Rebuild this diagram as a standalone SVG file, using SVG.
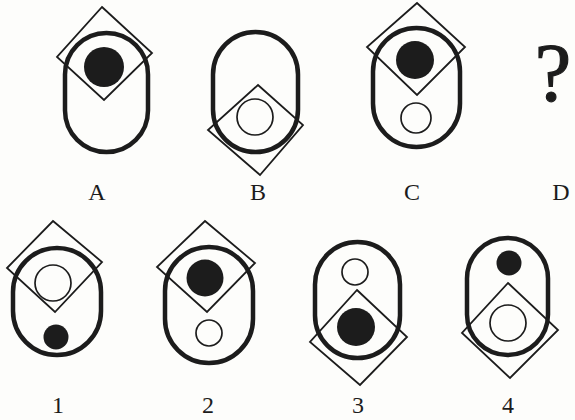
<svg xmlns="http://www.w3.org/2000/svg" width="575" height="420" viewBox="0 0 575 420">
<style>
.oval{fill:none;stroke:#1c1c1c;stroke-width:4.5}
.dia{fill:none;stroke:#1c1c1c;stroke-width:1.8;stroke-linejoin:miter}
.fill{fill:#1c1c1c}
.hollow{fill:none;stroke:#1c1c1c;stroke-width:1.7}
.lbl{font-family:"Liberation Serif",serif;font-size:24px;fill:#1c1c1c;text-anchor:middle}
.q{font-family:"Liberation Serif",serif;font-size:82px;fill:#1c1c1c;stroke:#1c1c1c;stroke-width:1.2;text-anchor:middle}
</style>
<rect width="575" height="420" fill="#fdfdfb"/>
<g id="figA">
<rect class="oval" x="65" y="33" width="83" height="119" rx="41.5" ry="41.5"/>
<polygon class="dia" points="102,7 152,53 104,100 57,57"/>
<circle class="fill" cx="104" cy="67" r="20"/>
<text class="lbl" x="97" y="200">A</text>
</g>
<g id="figB">
<rect class="oval" x="213" y="32" width="85" height="120" rx="42.5" ry="42.5"/>
<polygon class="dia" points="258,85 303,125 260,175 208,130"/>
<circle class="hollow" cx="255" cy="117" r="18"/>
<text class="lbl" x="258" y="200">B</text>
</g>
<g id="figC">
<rect class="oval" x="373" y="28" width="87" height="119" rx="43.5" ry="43.5"/>
<polygon class="dia" points="417,3 465,47 417,95 367,47"/>
<circle class="fill" cx="415" cy="60" r="19"/>
<circle class="hollow" cx="416" cy="118" r="15"/>
<text class="lbl" x="412" y="200">C</text>
</g>
<g id="figD">
<text class="q" x="553" y="100">?</text>
<text class="lbl" x="561" y="200">D</text>
</g>
<g id="fig1">
<rect class="oval" x="13" y="248" width="88" height="107" rx="44" ry="44"/>
<polygon class="dia" points="53,221 102,262 55,312 7,268"/>
<circle class="hollow" cx="53" cy="283" r="18"/>
<circle class="fill" cx="56" cy="337" r="12.5"/>
<text class="lbl" x="58" y="413">1</text>
</g>
<g id="fig2">
<rect class="oval" x="165" y="247" width="88" height="116" rx="44" ry="44"/>
<polygon class="dia" points="205,221 255,263 207,312 157,267"/>
<circle class="fill" cx="205" cy="278" r="18.5"/>
<circle class="hollow" cx="209" cy="333" r="13"/>
<text class="lbl" x="208" y="413">2</text>
</g>
<g id="fig3">
<rect class="oval" x="315" y="242" width="85" height="116" rx="42.5" ry="42.5"/>
<polygon class="dia" points="357,290 407,337 360,385 310,342"/>
<circle class="hollow" cx="355" cy="272" r="13"/>
<circle class="fill" cx="356" cy="327" r="19"/>
<text class="lbl" x="358" y="413">3</text>
</g>
<g id="fig4">
<rect class="oval" x="467" y="238" width="81" height="117" rx="40.5" ry="40.5"/>
<polygon class="dia" points="508,283 558,330 510,378 462,333"/>
<circle class="fill" cx="509" cy="263" r="12.5"/>
<circle class="hollow" cx="508" cy="323" r="18"/>
<text class="lbl" x="508" y="413">4</text>
</g>
<g id="connectors"/>
</svg>
